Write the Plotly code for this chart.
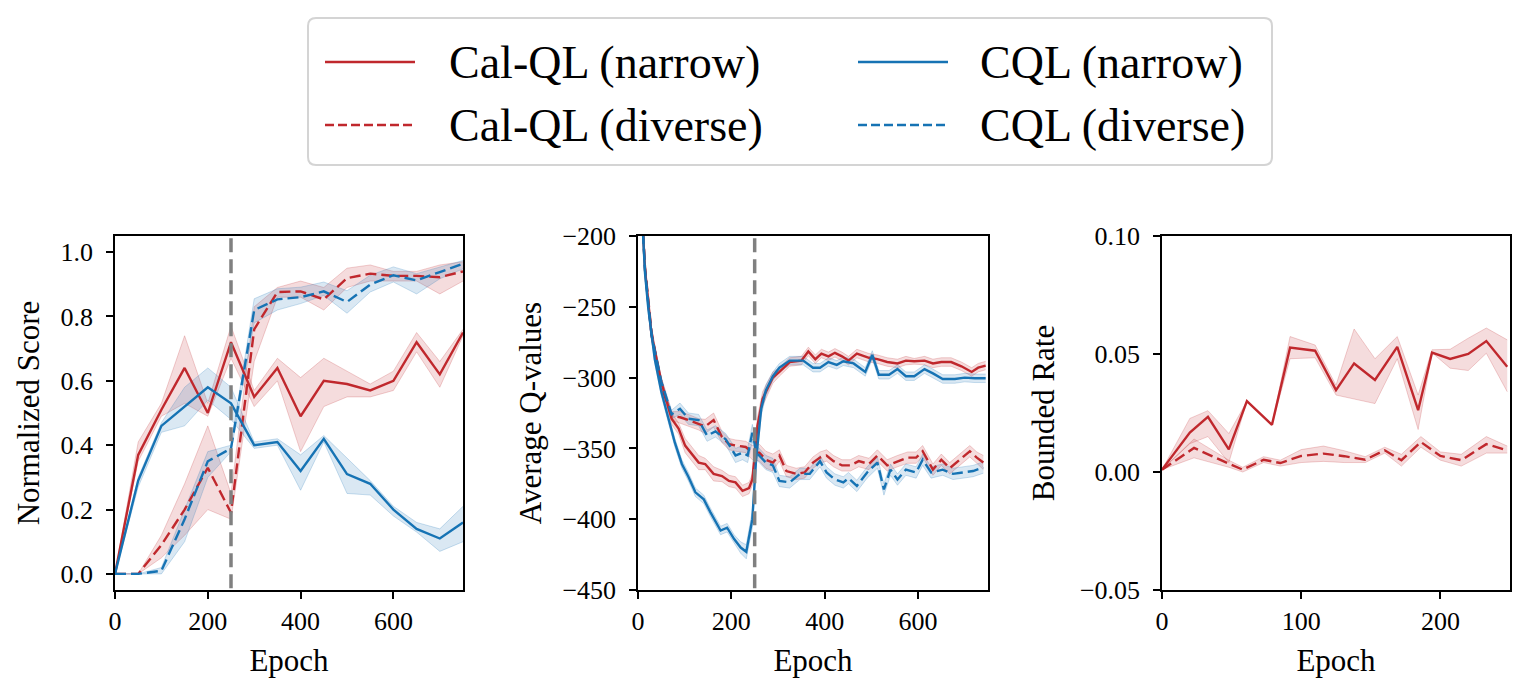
import plotly.graph_objects as go

# ---------------- data: panel 1 (Normalized Score) ----------------
score_epochs = [0, 50, 100, 150, 200, 250, 300, 350, 400, 450, 500, 550, 600, 650, 700, 750]

calql_narrow_score = [0.0, 0.37, 0.51, 0.64, 0.50, 0.72, 0.55, 0.64, 0.49, 0.60, 0.59, 0.57, 0.60, 0.72, 0.62, 0.75]
calql_narrow_score_lo = [0.0, 0.35, 0.49, 0.53, 0.49, 0.67, 0.52, 0.60, 0.38, 0.52, 0.55, 0.55, 0.57, 0.69, 0.58, 0.74]
calql_narrow_score_hi = [0.0, 0.41, 0.53, 0.74, 0.53, 0.77, 0.57, 0.67, 0.61, 0.67, 0.63, 0.59, 0.63, 0.75, 0.66, 0.76]

calql_diverse_score = [0.0, 0.0, 0.09, 0.20, 0.33, 0.19, 0.76, 0.876, 0.878, 0.853, 0.919, 0.933, 0.926, 0.926, 0.922, 0.94]
calql_diverse_score_lo = [0.0, 0.0, 0.05, 0.12, 0.20, 0.17, 0.66, 0.86, 0.86, 0.82, 0.89, 0.91, 0.91, 0.91, 0.87, 0.91]
calql_diverse_score_hi = [0.0, 0.0, 0.12, 0.28, 0.46, 0.25, 0.83, 0.89, 0.91, 0.89, 0.95, 0.96, 0.94, 0.94, 0.96, 0.97]

cql_narrow_score = [0.0, 0.29, 0.46, 0.52, 0.58, 0.53, 0.40, 0.41, 0.32, 0.42, 0.31, 0.28, 0.20, 0.14, 0.11, 0.16]
cql_narrow_score_lo = [0.0, 0.27, 0.44, 0.46, 0.54, 0.48, 0.39, 0.40, 0.26, 0.41, 0.25, 0.245, 0.18, 0.13, 0.07, 0.10]
cql_narrow_score_hi = [0.0, 0.30, 0.47, 0.58, 0.64, 0.58, 0.41, 0.42, 0.37, 0.43, 0.36, 0.29, 0.21, 0.16, 0.14, 0.21]

cql_diverse_score = [0.0, 0.0, 0.01, 0.17, 0.35, 0.39, 0.82, 0.853, 0.86, 0.878, 0.845, 0.899, 0.928, 0.912, 0.938, 0.964]
cql_diverse_score_lo = [0.0, 0.0, 0.0, 0.10, 0.30, 0.38, 0.78, 0.82, 0.84, 0.865, 0.81, 0.876, 0.907, 0.87, 0.917, 0.948]
cql_diverse_score_hi = [0.0, 0.0, 0.02, 0.20, 0.38, 0.40, 0.855, 0.886, 0.891, 0.907, 0.88, 0.928, 0.954, 0.933, 0.954, 0.974]

# ---------------- data: panel 2 (Average Q-values) ----------------
calql_narrow_q_epochs = [0, 15, 29, 50, 72, 87, 101, 115, 130, 144, 162, 180, 195, 209, 224, 238, 245, 256, 267, 289,
                         303, 325, 350, 365, 380, 393, 408, 422, 437, 451, 469, 495, 513, 534, 556, 574, 592, 614, 632,
                         650, 671, 693, 715, 729, 745]
calql_narrow_q = [-130, -224, -270, -303, -329, -336, -348, -354, -360, -361, -368, -369.5, -373, -374, -380, -378, -372,
                  -334, -315, -300, -296, -289, -288, -281.5, -287, -283, -285, -282.5, -285, -288, -283, -286, -287,
                  -289, -290, -288, -288.5, -288, -290, -289, -289, -292, -296, -293, -291.5]
calql_narrow_q_spread = [0, 4, 4, 3, 4, 4, 5, 5, 5, 4, 5, 4, 4, 4, 4, 4, 4, 6, 5, 4, 3, 3, 3, 3, 3, 3, 3, 3, 3, 3, 3, 3,
                         3, 3, 3, 3, 2, 3, 3, 3, 3, 3, 3, 3, 3]

cql_narrow_q_epochs = [0, 15, 22, 36, 50, 65, 79, 94, 108, 123, 141, 155, 177, 191, 206, 220, 232, 245, 253, 264, 274,
                       289, 303, 325, 354, 375, 390, 408, 426, 440, 462, 487, 502, 516, 538, 556, 574, 592, 614, 632,
                       653, 679, 700, 722, 745]
cql_narrow_q = [-130, -226, -251, -287, -310, -329, -346, -361, -370, -381, -386, -395, -408, -406, -414, -420, -423,
                -400, -358, -322, -309, -299, -293, -288, -288, -293, -293, -289, -291, -288.5, -290, -296, -284, -298,
                -298, -294, -299, -299, -294, -297, -301, -301, -300, -300.5, -300.5]
cql_narrow_q_spread = [0, 4, 4, 3, 3, 3, 3, 3, 3, 3, 3, 3, 3, 3, 3, 4, 5, 6, 6, 5, 4, 3, 3, 3, 3, 3, 3, 3, 3, 3, 3, 3,
                       3, 3, 3, 3, 3, 3, 3, 3, 3, 3, 3, 3, 3]

calql_diverse_q_epochs = [0, 15, 29, 50, 72, 90, 108, 130, 144, 162, 180, 195, 209, 231, 245, 260, 274, 289, 303, 318,
                          339, 357, 375, 390, 404, 419, 437, 455, 473, 495, 513, 534, 556, 578, 596, 610, 632, 650,
                          668, 690, 711, 726, 740]
calql_diverse_q = [-130, -222, -268, -306, -327, -328, -330, -333, -334.5, -330, -342, -347, -348, -349, -353, -353,
                   -358, -360, -355, -366, -368, -367, -360, -356.5, -355, -359, -362, -362, -359, -361, -355, -362,
                   -359, -356.5, -356.5, -352, -365, -358, -364, -358, -352, -356.5, -360]
calql_diverse_q_spread = [0, 4, 4, 3, 3, 4, 4, 4, 5, 5, 4, 4, 4, 4, 5, 6, 6, 6, 4, 4, 4, 4, 4, 4, 4, 4, 4, 4, 4, 4, 4,
                          4, 4, 4, 4, 4, 4, 4, 4, 4, 4, 4, 5]

cql_diverse_q_epochs = [0, 15, 29, 50, 72, 90, 108, 130, 148, 166, 188, 209, 224, 235, 245, 254, 274, 289, 303, 325,
                        347, 368, 390, 404, 422, 440, 451, 469, 491, 513, 527, 541, 556, 574, 596, 610, 628, 653, 675,
                        697, 718, 740]
cql_diverse_q = [-130, -224, -270, -303, -326, -322, -329, -330, -341, -338, -343.5, -355, -353, -355, -339, -353, -360,
                 -362, -373, -374, -368, -368, -359, -367, -372, -374, -371, -376.5, -367, -360, -379, -365, -372,
                 -365, -367, -358, -367, -365, -368, -367, -366, -363.5]
cql_diverse_q_spread = [0, 4, 4, 3, 3, 4, 4, 4, 4, 4, 4, 5, 5, 5, 6, 5, 5, 5, 4, 4, 4, 4, 4, 4, 4, 4, 4, 4, 4, 4, 4, 4,
                        4, 4, 4, 4, 4, 4, 4, 4, 4, 4]

# ---------------- data: panel 3 (Bounded Rate) ----------------
rate_narrow_epochs = [0, 20, 33, 48, 61, 79, 92, 110, 125, 138, 153, 169, 184, 194, 207, 220, 233, 248]
rate_narrow = [0.001, 0.0167, 0.0234, 0.0096, 0.030, 0.020, 0.0527, 0.0514, 0.0347, 0.046, 0.039, 0.053, 0.0262,
               0.0506, 0.0479, 0.050, 0.0555, 0.0446]
rate_narrow_lo = [0.001, 0.012, 0.015, 0.004, 0.030, 0.020, 0.048, 0.0484, 0.0326, 0.031, 0.029, 0.048, 0.018, 0.0505,
                  0.044, 0.043, 0.0503, 0.034]
rate_narrow_hi = [0.001, 0.0227, 0.026, 0.0163, 0.030, 0.020, 0.0574, 0.0538, 0.0368, 0.0606, 0.048, 0.0574, 0.0326,
                  0.0518, 0.052, 0.0567, 0.061, 0.056]

rate_diverse_epochs = [0, 23, 48, 58, 73, 85, 100, 116, 131, 146, 160, 172, 186, 200, 215, 233, 248]
rate_diverse = [0.001, 0.0102, 0.0035, 0.001, 0.0052, 0.0038, 0.0068, 0.0078, 0.0067, 0.0052, 0.0092, 0.005, 0.0127,
                0.0068, 0.005, 0.0118, 0.0092]
rate_diverse_lo = [0.001, 0.006, 0.002, 0.0, 0.004, 0.0025, 0.004, 0.0045, 0.004, 0.004, 0.008, 0.0025, 0.0105, 0.005,
                   0.0025, 0.008, 0.008]
rate_diverse_hi = [0.001, 0.014, 0.005, 0.002, 0.0065, 0.005, 0.0095, 0.011, 0.009, 0.0065, 0.0105, 0.0075, 0.015,
                   0.0085, 0.0075, 0.015, 0.011]

switch_epoch = 250
legend_labels = ["Cal-QL (narrow)", "Cal-QL (diverse)", "CQL (narrow)", "CQL (diverse)"]

# ---------------- styling ----------------
W, H = 1530, 695
FONT = "Liberation Serif"
RED = "#c0282d"
BLUE = "#1673b4"
RED_FILL = "rgba(192,40,45,0.16)"
RED_EDGE = "rgba(192,40,45,0.22)"
BLUE_FILL = "rgba(22,115,180,0.16)"
BLUE_EDGE = "rgba(22,115,180,0.22)"
DASH = "11px,5px"
LW = 2.4


def px(x):
    return x / W


def py(y):
    return 1 - y / H


fig = go.Figure()


def add_band(xs, lo, hi, fill, edge, xa, ya):
    fig.add_trace(go.Scatter(x=xs, y=lo, mode="lines", line=dict(color=edge, width=1),
                             xaxis=xa, yaxis=ya, showlegend=False, hoverinfo="skip"))
    fig.add_trace(go.Scatter(x=xs, y=hi, mode="lines", line=dict(color=edge, width=1),
                             fill="tonexty", fillcolor=fill,
                             xaxis=xa, yaxis=ya, showlegend=False, hoverinfo="skip"))


def add_line(xs, ys, color, dash, name, xa, ya):
    fig.add_trace(go.Scatter(x=xs, y=ys, mode="lines", name=name,
                             line=dict(color=color, width=LW, dash=dash),
                             xaxis=xa, yaxis=ya, showlegend=False))


# panel 1
add_band(score_epochs, calql_narrow_score_lo, calql_narrow_score_hi, RED_FILL, RED_EDGE, "x", "y")
add_band(score_epochs, calql_diverse_score_lo, calql_diverse_score_hi, RED_FILL, RED_EDGE, "x", "y")
add_band(score_epochs, cql_narrow_score_lo, cql_narrow_score_hi, BLUE_FILL, BLUE_EDGE, "x", "y")
add_band(score_epochs, cql_diverse_score_lo, cql_diverse_score_hi, BLUE_FILL, BLUE_EDGE, "x", "y")
add_line(score_epochs, calql_narrow_score, RED, "solid", legend_labels[0], "x", "y")
add_line(score_epochs, calql_diverse_score, RED, DASH, legend_labels[1], "x", "y")
add_line(score_epochs, cql_narrow_score, BLUE, "solid", legend_labels[2], "x", "y")
add_line(score_epochs, cql_diverse_score, BLUE, DASH, legend_labels[3], "x", "y")


# panel 2
def lohi(vals, spread):
    return [v - s for v, s in zip(vals, spread)], [v + s for v, s in zip(vals, spread)]


for xs, vals, spr, fill, edge in [
    (calql_narrow_q_epochs, calql_narrow_q, calql_narrow_q_spread, RED_FILL, RED_EDGE),
    (calql_diverse_q_epochs, calql_diverse_q, calql_diverse_q_spread, RED_FILL, RED_EDGE),
    (cql_narrow_q_epochs, cql_narrow_q, cql_narrow_q_spread, BLUE_FILL, BLUE_EDGE),
    (cql_diverse_q_epochs, cql_diverse_q, cql_diverse_q_spread, BLUE_FILL, BLUE_EDGE),
]:
    lo, hi = lohi(vals, spr)
    add_band(xs, lo, hi, fill, edge, "x2", "y2")
add_line(calql_narrow_q_epochs, calql_narrow_q, RED, "solid", legend_labels[0], "x2", "y2")
add_line(calql_diverse_q_epochs, calql_diverse_q, RED, DASH, legend_labels[1], "x2", "y2")
add_line(cql_narrow_q_epochs, cql_narrow_q, BLUE, "solid", legend_labels[2], "x2", "y2")
add_line(cql_diverse_q_epochs, cql_diverse_q, BLUE, DASH, legend_labels[3], "x2", "y2")

# panel 3
add_band(rate_narrow_epochs, rate_narrow_lo, rate_narrow_hi, RED_FILL, RED_EDGE, "x3", "y3")
add_band(rate_diverse_epochs, rate_diverse_lo, rate_diverse_hi, RED_FILL, RED_EDGE, "x3", "y3")
add_line(rate_narrow_epochs, rate_narrow, RED, "solid", legend_labels[0], "x3", "y3")
add_line(rate_diverse_epochs, rate_diverse, RED, DASH, legend_labels[1], "x3", "y3")

# switch lines
for xa, ya in [("x", "y"), ("x2", "y2")]:
    fig.add_shape(type="line", xref=xa, yref=ya + " domain", x0=switch_epoch, x1=switch_epoch, y0=0.005, y1=1,
                  line=dict(color="#808080", width=3.5, dash="14px,7px"))

TICKFONT = dict(family=FONT, size=26, color="black")
TITLEFONT = dict(family=FONT, size=31, color="black")
axis_common = dict(showline=True, linecolor="black", linewidth=1.5, mirror=True, ticks="outside",
                   ticklen=7, tickwidth=1.5, tickcolor="black", showgrid=False, zeroline=False,
                   tickfont=TICKFONT, automargin=False)

fig.update_layout(
    width=W, height=H, margin=dict(l=0, r=0, t=0, b=0),
    paper_bgcolor="white", plot_bgcolor="white", showlegend=False,
    xaxis=dict(domain=[px(115), px(463)], anchor="y", range=[0, 750], tickvals=[0, 200, 400, 600],
               title=dict(text="Epoch", font=TITLEFONT, standoff=14), **axis_common),
    yaxis=dict(domain=[py(590), py(236)], anchor="x", range=[-0.05, 1.05],
               tickvals=[0.0, 0.2, 0.4, 0.6, 0.8, 1.0], tickformat=".1f", ticklabelstandoff=8,
               title=dict(text="Normalized Score", font=TITLEFONT, standoff=12), **axis_common),
    xaxis2=dict(domain=[px(638), px(988)], anchor="y2", range=[0, 750], tickvals=[0, 200, 400, 600],
                title=dict(text="Epoch", font=TITLEFONT, standoff=14), **axis_common),
    yaxis2=dict(domain=[py(590), py(236)], anchor="x2", range=[-450, -200],
                tickvals=[-450, -400, -350, -300, -250, -200], ticklabelstandoff=8,
                title=dict(text="Average Q-values", font=TITLEFONT, standoff=12), **axis_common),
    xaxis3=dict(domain=[px(1162), px(1510)], anchor="y3", range=[0, 250], tickvals=[0, 100, 200],
                title=dict(text="Epoch", font=TITLEFONT, standoff=14), **axis_common),
    yaxis3=dict(domain=[py(590), py(236)], anchor="x3", range=[-0.05, 0.10],
                tickvals=[-0.05, 0.0, 0.05, 0.10], tickformat=".2f", ticklabelstandoff=8,
                title=dict(text="Bounded Rate", font=TITLEFONT, standoff=16), **axis_common),
)

# ---------------- legend (drawn box) ----------------
bx0, bx1, by0, by1, r = 308, 1272, 18, 165, 8
path = (f"M {px(bx0 + r)},{py(by0)} L {px(bx1 - r)},{py(by0)} Q {px(bx1)},{py(by0)} {px(bx1)},{py(by0 + r)} "
        f"L {px(bx1)},{py(by1 - r)} Q {px(bx1)},{py(by1)} {px(bx1 - r)},{py(by1)} "
        f"L {px(bx0 + r)},{py(by1)} Q {px(bx0)},{py(by1)} {px(bx0)},{py(by1 - r)} "
        f"L {px(bx0)},{py(by0 + r)} Q {px(bx0)},{py(by0)} {px(bx0 + r)},{py(by0)} Z")
fig.add_shape(type="path", xref="paper", yref="paper", path=path,
              line=dict(color="#d4d4d4", width=2), fillcolor="rgba(255,255,255,0.85)", layer="above")

legend_slots = [  # (line x0, line x1, text x, row y)
    (325, 415, 447, 62),
    (325, 415, 447, 125),
    (858, 948, 978, 62),
    (858, 948, 978, 125),
]
legend_styles = [(RED, "solid"), (RED, DASH), (BLUE, "solid"), (BLUE, DASH)]
for (lx0, lx1, tx, ry), (col, dsh), lab in zip(legend_slots, legend_styles, legend_labels):
    fig.add_shape(type="line", xref="paper", yref="paper", x0=px(lx0), x1=px(lx1), y0=py(ry), y1=py(ry),
                  line=dict(color=col, width=LW, dash=dsh if dsh != DASH else "9px,4px"), layer="above")
    fig.add_annotation(x=px(tx), y=py(ry), xref="paper", yref="paper", text=lab, showarrow=False,
                       xanchor="left", yanchor="middle", font=dict(family=FONT, size=46, color="black"))

fig.write_html("out.html", config={"displayModeBar": False},
               post_script="document.body.style.margin='0';document.body.style.overflow='hidden';")
